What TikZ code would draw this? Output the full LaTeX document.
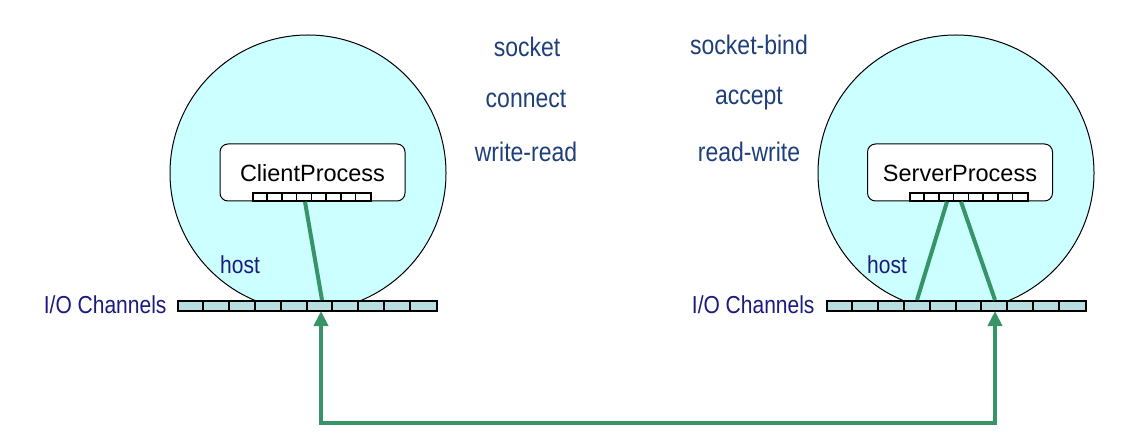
\documentclass[tikz,border=0pt]{standalone}
\usepackage{fontspec}
\usepackage{graphicx}
\setmainfont{Liberation Sans}
\usetikzlibrary{arrows.meta}
\definecolor{hostfill}{HTML}{CCFFFF}
\definecolor{barfill}{HTML}{B7DEE0}
\definecolor{linkgreen}{HTML}{379467}
\definecolor{callblue}{HTML}{1F3F7A}
\definecolor{navytext}{HTML}{1A1A80}
\newcommand{\talltext}[1]{\scalebox{1}[1.17]{#1}}
\tikzset{
  hostcircle/.style={circle, draw=black, line width=1pt, fill=hostfill, minimum size=276pt, inner sep=0pt},
  chanbar/.style={rectangle, draw=black, line width=2pt, fill=barfill, minimum width=259pt, minimum height=10pt, inner sep=0pt},
  procbox/.style={rectangle, rounded corners=8pt, draw=black, line width=1pt, fill=white, minimum width=185pt, minimum height=57pt, inner sep=0pt},
  portbar/.style={rectangle, draw=black, line width=1.5pt, fill=white, minimum width=118pt, minimum height=8pt, inner sep=0pt},
  proctext/.style={font=\fontsize{23.5}{27}\selectfont, text=black},
  calltext/.style={font=\fontsize{23}{27}\selectfont, text=callblue},
  smalltext/.style={font=\fontsize{21}{25}\selectfont, text=navytext},
  link/.style={draw=linkgreen, line width=4pt},
  arr/.style={draw=linkgreen, line width=4pt, {Triangle[width=14pt,length=15pt]}-{Triangle[width=14pt,length=15pt]}}
}
\begin{document}
\begin{tikzpicture}[x=1pt,y=-1pt]
\useasboundingbox (0,0) rectangle (1142,443);
% hosts
\node[hostcircle] (lhost) at (308,173) {};
\node[hostcircle] (rhost) at (956,173) {};
% channel bars
\node[chanbar] (lbar) at (307.5,306) {};
\node[chanbar] (rbar) at (956.5,306) {};
\foreach \i in {1,...,9} {
  \draw[line width=2pt] ([xshift=\i*25.9pt]lbar.north west) -- ([xshift=\i*25.9pt]lbar.south west);
  \draw[line width=2pt] ([xshift=\i*25.9pt]rbar.north west) -- ([xshift=\i*25.9pt]rbar.south west);
}
% process boxes
\node[procbox] (lproc) at (312.5,172.5) {};
\node[procbox] (rproc) at (960,172.5) {};
\node[proctext] (lproclbl) at (312.5,173) {ClientProcess};
\node[proctext] (rproclbl) at (960,173) {ServerProcess};
\node[portbar] (lport) at (312,197) {};
\node[portbar] (rport) at (969,197) {};
\foreach \i in {1,...,7} {
  \draw[line width=1.5pt] ([xshift=\i*14.75pt]lport.north west) -- ([xshift=\i*14.75pt]lport.south west);
  \draw[line width=1.5pt] ([xshift=\i*14.75pt]rport.north west) -- ([xshift=\i*14.75pt]rport.south west);
}
% link endpoints
\coordinate (lp1) at (lport.south -| 305,0);
\coordinate (lc1) at (lbar.north -| 322,0);
\coordinate (rp1) at (rport.south -| 947,0);
\coordinate (rc1) at (rbar.north -| 917,0);
\coordinate (rp2) at (rport.south -| 961,0);
\coordinate (rc2) at (rbar.north -| 995,0);
\draw[link] (lp1) -- (lc1);
\draw[link] (rp1) -- (rc1);
\draw[link] (rp2) -- (rc2);
% network arrow
\coordinate (lin) at (lbar.south -| 321,0);
\coordinate (rin) at (rbar.south -| 995,0);
\coordinate (bottom) at (0,423);
\draw[arr] ([yshift=1pt]lin) -- (lin |- bottom) -- (rin |- bottom) -- ([yshift=1pt]rin);
% labels
\node[smalltext] (lhostlbl) at (240,265) {\talltext{host}};
\node[smalltext] (rhostlbl) at (887,265) {\talltext{host}};
\node[smalltext, anchor=east] (lchan) at (170,305) {\talltext{I/O Channels}};
\node[smalltext, anchor=east] (rchan) at (818,305) {\talltext{I/O Channels}};
\node[calltext] (c1) at (527,47) {\talltext{socket}};
\node[calltext] (c2) at (526,99) {\talltext{connect}};
\node[calltext] (c3) at (526,152) {\talltext{write-read}};
\node[calltext] (s1) at (749,45) {\talltext{socket-bind}};
\node[calltext] (s2) at (749,99) {\talltext{accept}};
\node[calltext] (s3) at (749,152) {\talltext{read-write}};
\end{tikzpicture}
\end{document}
